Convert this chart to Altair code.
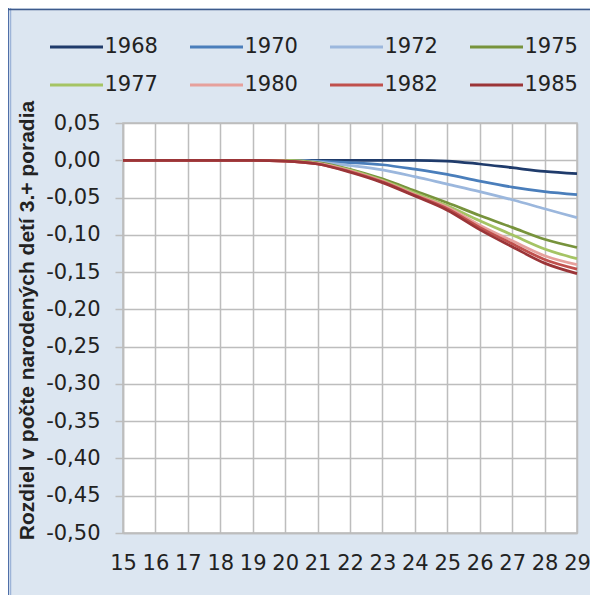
import altair as alt
import pandas as pd

# ---- data ----
ages = list(range(15, 30))
years = ["1968", "1970", "1972", "1975", "1977", "1980", "1982", "1985"]
colors = ["#1f3b6b", "#4a7ebb", "#9bb7dd", "#77933c", "#a5c464", "#e6a09c", "#c0504d", "#9b3538"]

s1968 = [0, 0, 0, 0, 0, 0, 0, 0, 0, 0, -0.001, -0.005, -0.010, -0.015, -0.018]
s1970 = [0, 0, 0, 0, 0, 0, -0.001, -0.003, -0.006, -0.012, -0.019, -0.028, -0.036, -0.042, -0.046]
s1972 = [0, 0, 0, 0, 0, 0, -0.002, -0.007, -0.013, -0.022, -0.032, -0.042, -0.053, -0.065, -0.077]
s1975 = [0, 0, 0, 0, 0, 0, -0.003, -0.012, -0.025, -0.041, -0.057, -0.074, -0.090, -0.106, -0.117]
s1977 = [0, 0, 0, 0, 0, 0, -0.004, -0.013, -0.027, -0.044, -0.061, -0.081, -0.100, -0.119, -0.132]
s1980 = [0, 0, 0, 0, 0, -0.001, -0.004, -0.014, -0.028, -0.046, -0.063, -0.087, -0.108, -0.128, -0.140]
s1982 = [0, 0, 0, 0, 0, -0.001, -0.005, -0.015, -0.029, -0.047, -0.065, -0.090, -0.112, -0.133, -0.146]
s1985 = [0, 0, 0, 0, 0, -0.001, -0.005, -0.016, -0.030, -0.048, -0.067, -0.093, -0.116, -0.138, -0.152]

y_ticks = [0.05, 0.0, -0.05, -0.10, -0.15, -0.20, -0.25, -0.30, -0.35, -0.40, -0.45, -0.50]
x_ticks = ages
y_title = "Rozdiel v počte narodených detí 3.+ poradia"

series = {"1968": s1968, "1970": s1970, "1972": s1972, "1975": s1975,
          "1977": s1977, "1980": s1980, "1982": s1982, "1985": s1985}
rows = []
for yr in years:
    for a, v in zip(ages, series[yr]):
        rows.append({"vek": a, "rok": yr, "hodnota": v})
df = pd.DataFrame(rows)

GRID = "#bdbdbd"
TXT = "#222222"

lines = alt.Chart(df).mark_line(strokeWidth=2.75, interpolate="monotone").encode(
    x=alt.X("vek:Q",
            scale=alt.Scale(domain=[15, 29], nice=False, zero=False),
            axis=alt.Axis(values=x_ticks, title=None, ticks=False, tickSize=0,
                          labelPadding=19, labelFont="DejaVu Sans", labelFontSize=21,
                          labelColor=TXT, labelFlush=False, labelOverlap=False,
                          grid=True, gridColor=GRID, gridWidth=1.5,
                          domainColor=GRID, domainWidth=1.5)),
    y=alt.Y("hodnota:Q",
            scale=alt.Scale(domain=[-0.5, 0.05], nice=False, zero=False),
            axis=alt.Axis(values=y_ticks,
                          labelExpr="replace(replace(format(datum.value, '.2f'), '.', ','), '\u2212', '-')",
                          title=y_title, titleFont="Liberation Sans", titleFontWeight="bold",
                          titleFontSize=21, titleColor=TXT, titleAngle=270,
                          titleX=-90, titleY=197, titleAlign="center",
                          titleBaseline="alphabetic",
                          tickSize=8, tickColor=GRID, tickWidth=1.5,
                          labelPadding=15, labelFont="DejaVu Sans", labelFontSize=21,
                          labelColor=TXT, labelOverlap=False, labelFlush=False,
                          grid=True, gridColor=GRID, gridWidth=1.5,
                          domainColor=GRID, domainWidth=1.5)),
    color=alt.Color("rok:N",
                    scale=alt.Scale(domain=years, range=colors),
                    legend=alt.Legend(orient="none", legendX=-74.5, legendY=-104,
                                      direction="horizontal", columns=4, title=None,
                                      symbolType="stroke", symbolSize=2809,
                                      symbolStrokeWidth=3, labelFont="DejaVu Sans",
                                      labelFontSize=21, labelColor=TXT, labelOffset=0,
                                      columnPadding=25, rowPadding=-16, padding=0)),
)

one = pd.DataFrame({"k": [0]})
frame_left = alt.Chart(one).mark_rule(color="#4f6fa8", strokeWidth=1).encode(
    x=alt.value(-114.5), y=alt.value(-115), y2=alt.value(472))
frame_left2 = alt.Chart(one).mark_rule(color="#9db4d8", strokeWidth=1.5).encode(
    x=alt.value(-112.5), y=alt.value(-115), y2=alt.value(472))
frame_top = alt.Chart(one).mark_rule(color="#3d5a8c", strokeWidth=1.5).encode(
    x=alt.value(-115), x2=alt.value(467), y=alt.value(-113.5))

chart = alt.layer(lines, frame_left, frame_left2, frame_top).properties(
    width=454, height=410,
    padding={"left": 115, "top": 115, "right": 13, "bottom": 62},
    autosize=alt.AutoSizeParams(type="none"),
    background="#dce6f1",
).configure_view(fill="white", stroke=GRID, strokeWidth=1.5)

chart.save("out.html", embed_options={"renderer": "svg", "actions": False})
